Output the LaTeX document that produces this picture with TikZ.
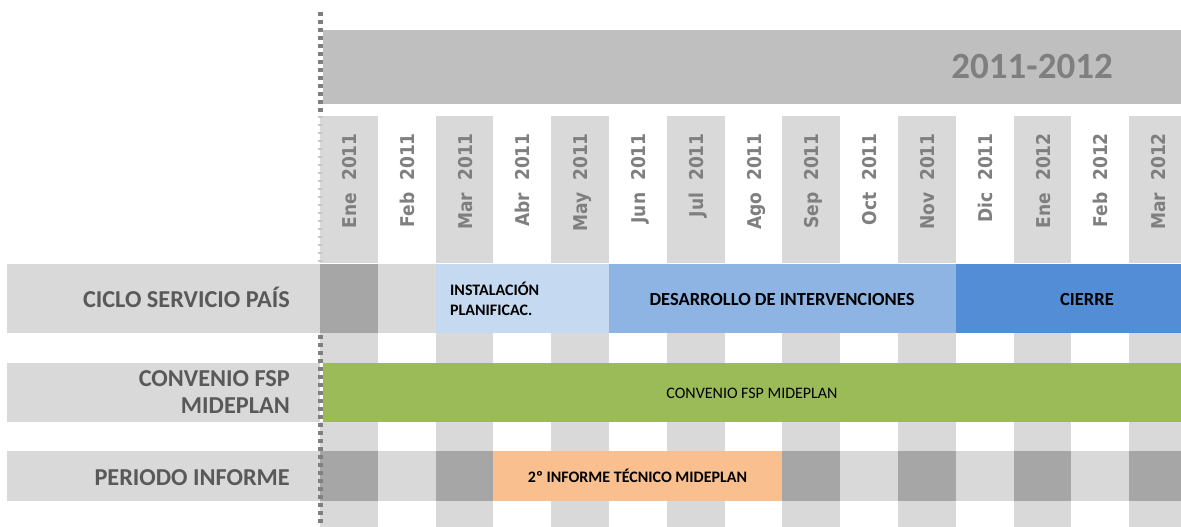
\documentclass[tikz,border=0pt]{standalone}
\usepackage{fontspec}
\setmainfont{Carlito}
\newfontfamily\monthfont{DejaVu Sans Condensed}
\definecolor{lgray}{HTML}{D9D9D9}
\definecolor{dgray}{HTML}{A6A6A6}
\definecolor{bannergray}{HTML}{BFBFBF}
\definecolor{headtext}{HTML}{7F7F7F}
\definecolor{labeltext}{HTML}{595959}
\definecolor{instal}{HTML}{C5D9F1}
\definecolor{desarr}{HTML}{8DB4E2}
\definecolor{cierre}{HTML}{538DD5}
\definecolor{convgreen}{HTML}{9BBB59}
\definecolor{informe}{HTML}{FABF8F}
\tikzset{
  monthlabel/.style={rotate=90, anchor=base east, inner sep=0pt, text=headtext,
    font=\monthfont\bfseries\fontsize{19}{21}\selectfont},
  rowlabel/.style={anchor=base east, inner sep=0pt, text=labeltext,
    font=\bfseries\fontsize{24.3}{26}\selectfont},
  bartext/.style={inner sep=0pt, text=black, font=\bfseries\fontsize{16}{18}\selectfont},
  dashdark/.style={draw=headtext, line width=5pt, dash pattern=on 4pt off 4pt},
  dashlight/.style={draw=lgray!80!gray, line width=5pt, dash pattern=on 2pt off 6pt}
}
\begin{document}
\begin{tikzpicture}[x=1pt,y=-1pt]
\useasboundingbox (0,0) rectangle (1181,527);
\begin{scope}
\clip (0,0) rectangle (1181,527);
% grid cells
\foreach \i in {0,...,14} {
  \pgfmathsetmacro\xa{320+57.8*\i}
  \pgfmathsetmacro\xb{\xa+57.8}
  \pgfmathtruncatemacro\ev{mod(\i,2)}
  \ifnum\ev=0
    \fill[lgray] (\xa,116) rectangle (\xb,263);
    \fill[lgray] (\xa,333) rectangle (\xb,363);
    \fill[lgray] (\xa,422) rectangle (\xb,451);
    \fill[lgray] (\xa,501) rectangle (\xb,527);
    \fill[dgray] (\xa,264) rectangle (\xb,333);
    \fill[dgray] (\xa,451) rectangle (\xb,501);
  \else
    \fill[lgray] (\xa,264) rectangle (\xb,333);
    \fill[lgray] (\xa,451) rectangle (\xb,501);
  \fi
}
% banner
\fill[bannergray] (323,30) rectangle (1181,104);
\node[anchor=base east, inner sep=0pt, text=headtext,
  font=\bfseries\fontsize{37}{40}\selectfont] (years) at (1113,79) {2011-2012};
% month labels
\foreach \i/\m in {0/Ene~~2011,1/Feb~~2011,2/Mar~~2011,3/Abr~~2011,4/May~~2011,
  5/Jun~~2011,6/Jul~~2011,7/Ago~~2011,8/Sep~~2011,9/Oct~~2011,10/Nov~~2011,
  11/Dic~~2011,12/Ene~~2012,13/Feb~~2012,14/Mar~~2012} {
  \node[monthlabel] (month\i) at ({320+57.8*\i+28.9+7.5},133) {\m};
}
% row label backgrounds
\fill[lgray] (7,264) rectangle (320,333);
\fill[lgray] (7,363) rectangle (320,422);
\fill[lgray] (7,451) rectangle (320,501);
\node[rowlabel] (ciclo) at (290,307) {CICLO SERVICIO PAÍS};
\node[rowlabel] (conv1) at (290,386.5) {CONVENIO FSP};
\node[rowlabel] (conv2) at (290,413) {MIDEPLAN};
\node[rowlabel] (periodo) at (290,485) {PERIODO INFORME};
% bars
\fill[instal] (435.6,264) rectangle (609,333);
\fill[desarr] (609,264) rectangle (955.8,333);
\fill[cierre] (955.8,264) rectangle (1181,333);
\fill[convgreen] (323,363) rectangle (1181,422);
\fill[informe] (493.4,451) rectangle (782.4,501);
\node[bartext, anchor=base west] (inst1) at (450,295.7) {INSTALACIÓN};
\node[bartext, anchor=base west] (inst2) at (450,315) {PLANIFICAC.};
\node[bartext, anchor=base, font=\bfseries\fontsize{18.5}{20}\selectfont] (desarrollo) at (782,305) {DESARROLLO DE INTERVENCIONES};
\node[bartext, anchor=base, font=\bfseries\fontsize{18.5}{20}\selectfont] (cierretext) at (1087,305) {CIERRE};
\node[inner sep=0pt, anchor=base, font=\fontsize{16}{18}\selectfont] (convtext) at (752,398) {CONVENIO FSP MIDEPLAN};
\node[bartext, anchor=base] (informetext) at (637.5,482) {2º INFORME TÉCNICO MIDEPLAN};
% dashed divider
\draw[dashdark] (320,12) -- (320,116);
\draw[dashlight] (320,116) -- (320,263);
\draw[dashdark] (320,335) -- (320,527);
\end{scope}
\end{tikzpicture}
\end{document}
